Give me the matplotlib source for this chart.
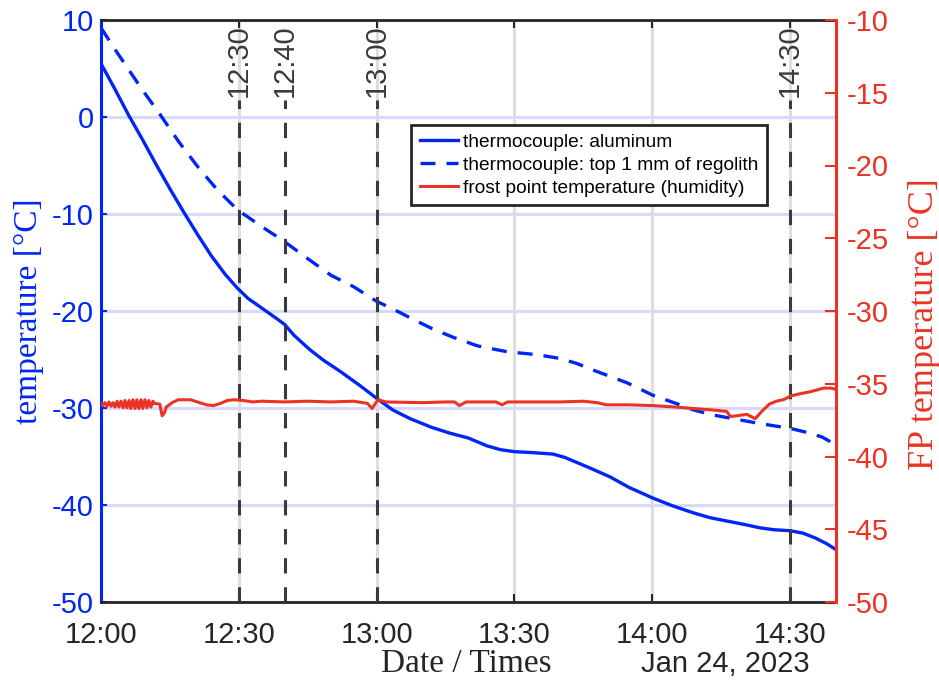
import datetime as dt

import matplotlib
matplotlib.use("Agg")
import matplotlib.pyplot as plt
from matplotlib.lines import Line2D

plt.rcParams["font.family"] = ["Liberation Sans", "DejaVu Sans"]
plt.rcParams["axes.unicode_minus"] = False

# ---------------- data ----------------
# minutes after 12:00 on Jan 24, 2023
alu_minutes = [0, 3, 6, 9, 12, 15, 18, 21, 24, 27, 29.6, 32, 35.3, 38, 40, 42,
               45.5, 48.5, 52, 56.4, 60, 63.5, 67.3, 72, 76, 80, 84, 87, 90, 94,
               98.4, 101, 103, 106.5, 110.8, 115, 120.2, 124.5, 128.9, 132.5,
               136.2, 140, 143.4, 146.5, 150, 152.8, 155.5, 158, 160]
alu_temp = [5.5, 2.9, 0.2, -2.3, -4.9, -7.4, -9.8, -12.1, -14.3, -16.2, -17.6,
            -18.7, -19.8, -20.7, -21.4, -22.5, -24.0, -25.1, -26.2, -27.7, -29.0,
            -30.2, -31.1, -32.0, -32.6, -33.1, -33.9, -34.3, -34.5, -34.6, -34.75,
            -35.1, -35.5, -36.2, -37.1, -38.2, -39.3, -40.1, -40.8, -41.3, -41.65,
            -42.0, -42.35, -42.55, -42.65, -42.9, -43.4, -44.0, -44.6]

reg_minutes = [0, 3, 6, 9, 12.8, 17, 21.5, 25.5, 29.8, 35, 39.8, 45, 50, 55, 60,
               64, 67.3, 72, 76.6, 82, 88.4, 94.9, 100, 103.5, 107.2, 114.5,
               120.2, 125, 129, 133, 137.6, 143.4, 150, 154.4, 157, 160]
reg_temp = [9.2, 7.0, 4.9, 2.8, 0.3, -2.6, -5.4, -7.6, -9.6, -11.3, -12.8, -14.6,
            -16.3, -17.5, -19.0, -19.9, -20.7, -21.8, -22.7, -23.6, -24.2, -24.5,
            -24.9, -25.4, -26.1, -27.4, -28.7, -29.5, -30.2, -30.7, -31.1, -31.6,
            -32.1, -32.6, -33.0, -33.8]

fp_minutes = [0, 0.4, 0.85, 1.3, 1.75, 2.2, 2.6, 3.05, 3.5, 3.9, 4.35, 4.8, 5.2,
              5.65, 6.1, 6.5, 6.95, 7.4, 7.8, 8.25, 8.7, 9.1, 9.55, 10.0, 10.4,
              10.85, 11.3, 11.6, 12.8, 13.3, 13.8, 14.2, 15.5, 16.8, 19.5, 21.5,
              23, 24.5, 26, 27.5, 29, 31, 33, 35, 40, 45, 50, 55, 57, 58, 59,
              60.3, 62, 70, 75, 77, 78, 79.5, 86, 87.3, 88.5, 95, 100, 105, 108,
              110, 115, 120, 125, 129, 133, 136.2, 137, 138.5, 140.6, 142.4, 144,
              145.5, 147, 148.5, 149.2, 150, 152, 154.4, 157.3, 159, 160]
fp_temp = [-36.35, -36.5, -36.3, -36.55, -36.25, -36.55, -36.3, -36.6, -36.2,
           -36.6, -36.2, -36.65, -36.15, -36.65, -36.15, -36.7, -36.1, -36.7,
           -36.1, -36.7, -36.1, -36.7, -36.1, -36.65, -36.15, -36.6, -36.2,
           -36.35, -36.4, -37.2, -37.0, -36.6, -36.3, -36.1, -36.1, -36.3,
           -36.45, -36.5, -36.35, -36.15, -36.1, -36.15, -36.25, -36.2, -36.25,
           -36.2, -36.25, -36.2, -36.3, -36.35, -36.7, -36.1, -36.25, -36.3,
           -36.25, -36.25, -36.5, -36.25, -36.25, -36.45, -36.25, -36.25, -36.25,
           -36.2, -36.3, -36.45, -36.45, -36.5, -36.6, -36.7, -36.8, -36.9,
           -37.25, -37.2, -37.1, -37.4, -36.85, -36.4, -36.2, -36.1, -36.0,
           -35.85, -35.7, -35.55, -35.3, -35.3, -35.4]

x_tick_labels = ["12:00", "12:30", "13:00", "13:30", "14:00", "14:30"]
event_labels = ["12:30", "12:40", "13:00", "14:30"]
left_ticks = [-50, -40, -30, -20, -10, 0, 10]
right_ticks = [-50, -45, -40, -35, -30, -25, -20, -15, -10]
series_labels = ["thermocouple: aluminum",
                 "thermocouple: top 1 mm of regolith",
                 "frost point temperature (humidity)"]

# ---------------- helpers ----------------
day = dt.datetime(2023, 1, 24)
start = day.replace(hour=12)
end = start + dt.timedelta(minutes=160)


def from_minutes(mins):
    return [start + dt.timedelta(minutes=m) for m in mins]


def from_clock(labels):
    out = []
    for s in labels:
        h, m = s.split(":")
        out.append(day.replace(hour=int(h), minute=int(m)))
    return out


BLUE = "#0026f5"
RED = "#ea3323"
DARK = "#262626"
EVENT = "#3a3a3a"

fig = plt.figure(figsize=(9.39, 6.85), dpi=100)
ax = fig.add_axes([101 / 939, 1 - 602 / 685, 735 / 939, 582 / 685])
ax2 = ax.twinx()

# grid
ax.set_axisbelow(True)
ax.grid(axis="y", color="#d9d9ff", linewidth=2.2)
ax.grid(axis="x", color="#dedede", linewidth=2.2)

# temperature curves (left axis)
ax.plot(from_minutes(alu_minutes), alu_temp, color=BLUE, linewidth=2.4,
        solid_joinstyle="round", zorder=2)
ax.plot(from_minutes(reg_minutes), reg_temp, color=BLUE, linewidth=2.4,
        linestyle=(0, (4.5, 3.3)), dash_joinstyle="round", zorder=2)

# event markers
for t, lab in zip(from_clock(event_labels), event_labels):
    ax.axvline(t, ymin=0, ymax=0.862, color=EVENT, linewidth=2.2,
               linestyle=(0, (5, 4.5)), zorder=3)
    ax.text(t, 0.992, lab, transform=ax.get_xaxis_transform(), rotation=90,
            ha="center", va="top", fontsize=21, color=EVENT)

# frost point (right axis)
ax2.plot(from_minutes(fp_minutes), fp_temp, color=RED, linewidth=2.2,
         solid_joinstyle="round")

# axes limits and ticks
ax.set_xlim(start, end)
ax.set_ylim(-50, 10)
ax2.set_ylim(-50, -10)
ax.set_yticks(left_ticks)
ax.set_yticklabels([str(v) for v in left_ticks])
ax2.set_yticks(right_ticks)
ax2.set_yticklabels([str(v) for v in right_ticks])
ax.set_xticks(from_clock(x_tick_labels))
ax.set_xticklabels(x_tick_labels)

ax.tick_params(axis="y", direction="in", length=4, width=1.5, colors=BLUE,
               labelsize=21, pad=5)
ax.tick_params(axis="x", direction="in", length=6, width=1.5, color=DARK,
               labelcolor=DARK, labelsize=21, pad=14, top=True)
ax2.tick_params(axis="y", direction="in", length=8, width=1.5, colors=RED,
                labelsize=21, pad=8)

# spines
for s in ("top", "bottom"):
    ax.spines[s].set_color(DARK)
    ax.spines[s].set_linewidth(2)
    ax2.spines[s].set_visible(False)
ax.spines["left"].set_color(BLUE)
ax.spines["left"].set_linewidth(2.2)
ax.spines["right"].set_visible(False)
ax2.spines["left"].set_visible(False)
ax2.spines["right"].set_color(RED)
ax2.spines["right"].set_linewidth(2.2)

# axis labels
ax.set_ylabel("temperature [°C]", family="Liberation Serif", fontsize=24, color=BLUE)
ax.yaxis.set_label_coords(-0.098, 0.5)
ax.yaxis.label.set_va("center")
ax2.set_ylabel("FP temperature [°C]", family="Liberation Serif", fontsize=26,
               color=RED, rotation=90)
ax2.yaxis.set_label_coords(1.12, 0.478)
ax2.yaxis.label.set_va("center")

ax.set_xlabel("Date / Times", family="Liberation Serif", fontsize=24, color=DARK)
ax.xaxis.set_label_coords((466 - 101) / 735, (602 - 672) / 582)
ax.xaxis.label.set_va("baseline")
fig.text(810 / 939, 1 - 672 / 685, "Jan 24, 2023", ha="right", va="baseline",
         fontsize=21, color=DARK)

# legend
handles = [Line2D([], [], color=BLUE, linewidth=2.4),
           Line2D([], [], color=BLUE, linewidth=2.4, linestyle=(0, (4.5, 3.3))),
           Line2D([], [], color=RED, linewidth=2.2)]
leg = ax2.legend(handles, series_labels, loc="upper left",
                 bbox_to_anchor=((411 - 101) / 735, (602 - 125) / 582),
                 borderaxespad=0, fontsize=13.8, frameon=True, fancybox=False,
                 edgecolor=DARK, framealpha=1, handlelength=2.0,
                 handletextpad=0.25, borderpad=0.45, labelspacing=0.28)
leg.get_frame().set_linewidth(2)

fig.savefig("out.png", dpi=100)
